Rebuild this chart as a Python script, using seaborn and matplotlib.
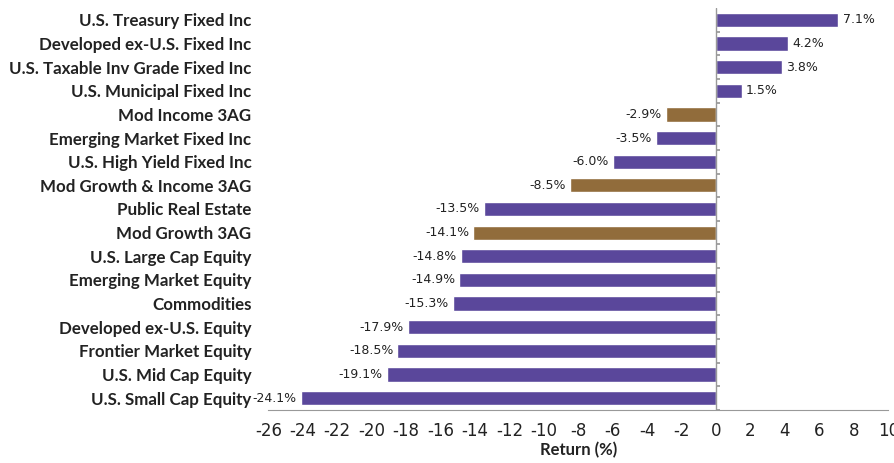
import matplotlib
matplotlib.use("Agg")
import matplotlib.pyplot as plt
import seaborn as sns
import pandas as pd
import numpy as np

categories = ["U.S. Treasury Fixed Inc", "Developed ex-U.S. Fixed Inc",
              "U.S. Taxable Inv Grade Fixed Inc", "U.S. Municipal Fixed Inc",
              "Mod Income 3AG", "Emerging Market Fixed Inc", "U.S. High Yield Fixed Inc",
              "Mod Growth & Income 3AG", "Public Real Estate", "Mod Growth 3AG",
              "U.S. Large Cap Equity", "Emerging Market Equity", "Commodities",
              "Developed ex-U.S. Equity", "Frontier Market Equity", "U.S. Mid Cap Equity",
              "U.S. Small Cap Equity"]
returns = [7.1, 4.2, 3.8, 1.5, -2.9, -3.5, -6.0, -8.5, -13.5, -14.1, -14.8, -14.9,
           -15.3, -17.9, -18.5, -19.1, -24.1]
groups = ["Asset", "Asset", "Asset", "Asset", "Model", "Asset", "Asset", "Model",
          "Asset", "Model", "Asset", "Asset", "Asset", "Asset", "Asset", "Asset", "Asset"]
x_ticks = list(range(-26, 11, 2))

sns.set_theme(style="white")
plt.rcParams['font.family'] = ['Lato', 'DejaVu Sans']

df = pd.DataFrame({"cat": categories, "ret": returns, "grp": groups})
palette = {"Asset": "#5A479B", "Model": "#916C3B"}

fig = plt.figure(figsize=(8.94, 4.63), dpi=100)
ax = fig.add_axes([0.3001, 0.1145, 0.6935, 0.8682])
sns.barplot(data=df, y="cat", x="ret", hue="grp", palette=palette, order=categories,
            orient="h", dodge=False, width=0.6, saturation=1, legend=False, ax=ax)

ax.set_xlim(-26, 10)
ax.set_ylim(16.5, -0.5)
ax.set_xticks(x_ticks)
ax.set_xticklabels([str(t) for t in x_ticks], fontsize=12, color="#222222",
                   family="DejaVu Sans")
ax.set_xlabel("Return (%)", fontsize=12, fontweight="bold", color="#222222", labelpad=1)
ax.set_ylabel("")
ax.tick_params(axis="y", length=0, pad=12)
for lbl in ax.get_yticklabels():
    lbl.set_fontweight("bold")
    lbl.set_fontsize(12.2)
    lbl.set_color("#222222")
ax.tick_params(axis="x", length=4, width=0.8, color="#888888", direction="out", pad=5)

for s in ["top", "right", "left"]:
    ax.spines[s].set_visible(False)
ax.spines["bottom"].set_color("#999999")
ax.spines["bottom"].set_linewidth(0.8)

ax.axvline(0, color="#999999", lw=1, zorder=3)
sec = ax.secondary_yaxis(26 / 36)
sec.set_yticks(np.arange(len(categories)) + 0.5)
sec.set_yticklabels([])
sec.tick_params(length=3, color="#999999", direction="out")
sec.spines["left"].set_visible(False)
sec.spines["right"].set_visible(False)

for cont in ax.containers:
    vals = cont.datavalues
    labels = [f"{v:.1f}%" if not np.isnan(v) else "" for v in vals]
    ax.bar_label(cont, labels=labels, padding=3, fontsize=9, color="#222222",
                 family="DejaVu Sans")

fig.savefig("out.png", dpi=100)
